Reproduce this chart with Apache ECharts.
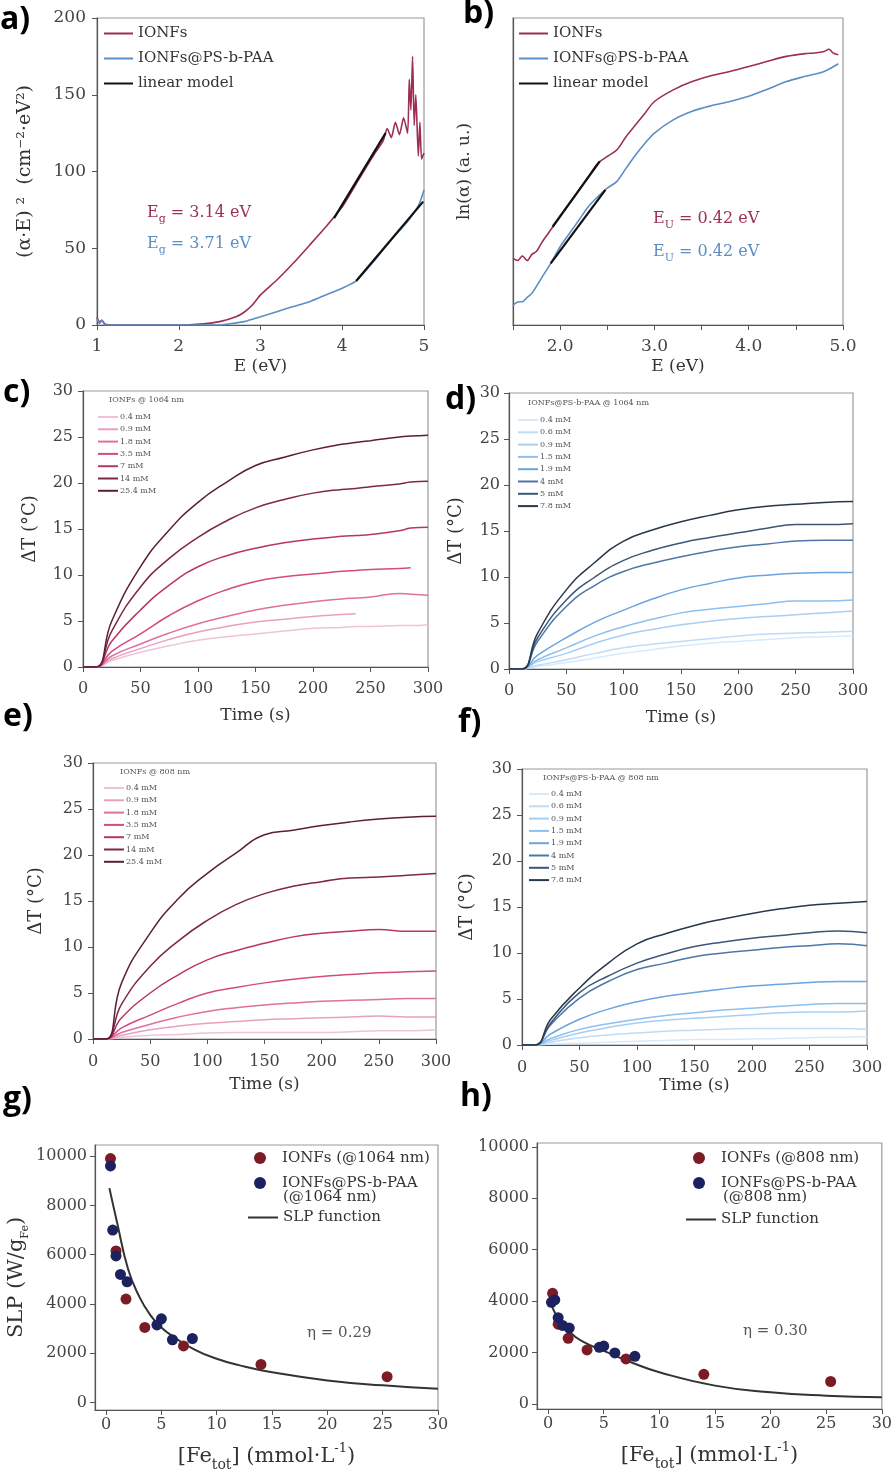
<!DOCTYPE html>
<html>
<head>
<meta charset="utf-8">
<title>IONFs optical and photothermal data</title>
<script src="https://cdn.jsdelivr.net/npm/echarts@6/dist/echarts.min.js"></script>
<style>
    body { margin: 0; background: #fff; }
    #figure { width: 895px; height: 1477px; }
</style>
</head>
<body>
<div id="figure"></div>
<script>
// ---- a) Tauc plot ----
var taucE_ionfs = [1.0, 1.03, 1.06, 1.1, 1.2, 1.5, 2.0, 2.3, 2.5, 2.7, 2.8, 2.9, 3.0, 3.2, 3.4, 3.6, 3.8, 4.0, 4.2, 4.4, 4.5, 4.55, 4.6, 4.65, 4.7, 4.75, 4.8, 4.82, 4.84, 4.86, 4.88, 4.9, 4.93, 4.95, 4.97, 5.0];
var taucY_ionfs = [5, 2, 3, 0.5, 0, 0, 0, 0.8, 2.2, 5.4, 8.3, 13, 19.6, 29.3, 40.2, 52, 64, 77, 94.6, 112, 120, 128, 122, 132, 124, 135, 125, 160, 140, 175, 130, 150, 110, 132, 108, 112];
var taucE_paa = [1.0, 1.03, 1.06, 1.1, 1.5, 2.0, 2.5, 2.6, 2.8, 3.0, 3.2, 3.4, 3.6, 3.8, 4.0, 4.17, 4.4, 4.6, 4.8, 4.9, 4.95, 5.0];
var taucY_paa = [4, 1, 3, 0, 0, 0, 0, 0.6, 2.2, 5.4, 8.7, 12, 15.2, 19.6, 24, 28.7, 42.4, 55.4, 67.4, 75, 80, 88];
var taucFitE_ionfs = [3.9, 4.53];
var taucFitY_ionfs = [69.6, 125];
var taucFitE_paa = [4.17, 4.99];
var taucFitY_paa = [28.7, 80.4];

// ---- b) Urbach plot ----
var urbE_ionfs = [1.5, 1.55, 1.6, 1.65, 1.7, 1.75, 1.8, 1.9, 2.0, 2.1, 2.2, 2.3, 2.4, 2.5, 2.6, 2.7, 2.8, 2.9, 3.0, 3.2, 3.4, 3.6, 3.8, 4.0, 4.2, 4.4, 4.6, 4.7, 4.8, 4.85, 4.9, 4.95];
var urbY_ionfs = [2.17, 2.1, 2.25, 2.1, 2.3, 2.4, 2.66, 3.1, 3.53, 3.97, 4.4, 4.84, 5.27, 5.49, 5.7, 6.14, 6.52, 6.9, 7.28, 7.66, 7.93, 8.12, 8.26, 8.42, 8.59, 8.75, 8.84, 8.86, 8.91, 8.98, 8.85, 8.8];
var urbE_paa = [1.5, 1.55, 1.6, 1.65, 1.7, 1.8, 1.9, 2.0, 2.1, 2.2, 2.3, 2.4, 2.5, 2.6, 2.7, 2.8, 2.9, 3.0, 3.2, 3.4, 3.6, 3.8, 4.0, 4.2, 4.4, 4.6, 4.8, 4.95];
var urbY_paa = [0.65, 0.75, 0.76, 0.9, 1.03, 1.52, 2.01, 2.55, 2.99, 3.42, 3.86, 4.18, 4.46, 4.67, 5.11, 5.54, 5.92, 6.25, 6.68, 6.96, 7.14, 7.28, 7.45, 7.68, 7.93, 8.1, 8.26, 8.51];
var urbFitE_ionfs = [1.92, 2.42];
var urbFitY_ionfs = [3.2, 5.33];
var urbFitE_paa = [1.9, 2.48];
var urbFitY_paa = [2.01, 4.4];

// ---- c) - f) heating curves ----
var ionfsConc = ['0.4 mM', '0.9 mM', '1.8 mM', '3.5 mM', '7 mM', '14 mM', '25.4 mM'];
var paaConc = ['0.4 mM', '0.6 mM', '0.9 mM', '1.5 mM', '1.9 mM', '4 mM', '5 mM', '7.8 mM'];
var pinks = ['#efc3d8', '#e8a0c0', '#e0709c', '#d44a82', '#b83566', '#7f2746', '#5c1f35'];
var blues = ['#d6eafb', '#bfdcf7', '#a6cff3', '#8cc0ee', '#6aa5e0', '#4d77a6', '#3b5678', '#27384c'];

var timeC = [0, 11, 25, 50, 75, 100, 125, 150, 175, 200, 225, 237, 250, 275, 285, 300];
var heatC = [
    [0, 0, 0.7, 1.6, 2.3, 2.9, 3.3, 3.6, 3.9, 4.2, 4.3, 4.4, 4.4, 4.5, 4.5, 4.6],
    [0, 0, 0.9, 2.0, 3.0, 3.8, 4.4, 4.9, 5.2, 5.5, 5.7, 5.8, null, null, null, null],
    [0, 0, 1.2, 2.5, 3.7, 4.7, 5.5, 6.2, 6.7, 7.1, 7.4, 7.5, 7.6, 8.0, 7.9, 7.8],
    [0, 0, 1.7, 3.6, 5.6, 7.2, 8.4, 9.3, 9.8, 10.1, 10.4, 10.5, 10.6, 10.7, 10.8, null],
    [0, 0, 2.8, 6.2, 8.9, 10.9, 12.1, 12.9, 13.5, 13.9, 14.2, 14.3, 14.4, 14.8, 15.1, 15.2],
    [0, 0, 3.9, 8.7, 11.8, 14.1, 15.9, 17.3, 18.2, 18.9, 19.3, 19.4, 19.6, 19.9, 20.1, 20.2],
    [0, 0, 5.0, 10.9, 14.9, 17.9, 20.1, 21.9, 22.8, 23.6, 24.2, 24.4, 24.6, 25.0, 25.1, 25.2]
];

var timeT = [0, 11, 25, 50, 75, 100, 125, 150, 175, 200, 225, 250, 275, 300];
var heatD = [
    [0, 0, 0.3, 0.7, 1.2, 1.7, 2.1, 2.5, 2.8, 3.0, 3.2, 3.4, 3.5, 3.6],
    [0, 0, 0.4, 1.0, 1.7, 2.3, 2.7, 3.0, 3.3, 3.6, 3.8, 3.9, 4.0, 4.1],
    [0, 0, 0.8, 1.7, 2.8, 3.7, 4.3, 4.8, 5.2, 5.5, 5.7, 5.9, 6.1, 6.3],
    [0, 0, 1.0, 2.3, 3.6, 4.6, 5.4, 6.1, 6.5, 6.8, 7.1, 7.4, 7.4, 7.5],
    [0, 0, 1.5, 3.4, 5.1, 6.4, 7.6, 8.6, 9.3, 9.9, 10.2, 10.4, 10.5, 10.5],
    [0, 0, 3.0, 6.8, 9.1, 10.6, 11.5, 12.2, 12.8, 13.3, 13.6, 13.9, 14.0, 14.0],
    [0, 0, 3.4, 7.5, 10.0, 11.8, 12.9, 13.7, 14.3, 14.8, 15.3, 15.7, 15.7, 15.8],
    [0, 0, 3.9, 8.6, 11.6, 13.9, 15.1, 16.0, 16.7, 17.3, 17.7, 17.9, 18.1, 18.2]
];
var heatE = [
    [0, 0, 0.2, 0.4, 0.5, 0.65, 0.7, 0.7, 0.7, 0.7, 0.8, 0.9, 0.9, 1.0],
    [0, 0, 0.4, 1.0, 1.4, 1.7, 1.9, 2.1, 2.2, 2.3, 2.4, 2.5, 2.4, 2.4],
    [0, 0, 0.7, 1.6, 2.4, 3.0, 3.4, 3.7, 3.9, 4.1, 4.2, 4.3, 4.4, 4.4],
    [0, 0, 1.2, 2.6, 3.9, 5.0, 5.6, 6.1, 6.5, 6.8, 7.0, 7.2, 7.3, 7.4],
    [0, 0, 2.3, 5.0, 7.0, 8.6, 9.6, 10.4, 11.1, 11.5, 11.7, 11.9, 11.7, 11.7],
    [0, 0, 3.8, 7.9, 10.7, 12.9, 14.6, 15.8, 16.6, 17.1, 17.5, 17.6, 17.8, 18.0],
    [0, 0, 6.1, 11.5, 15.3, 18.0, 20.2, 22.2, 22.7, 23.2, 23.6, 23.9, 24.1, 24.2]
];
var heatF = [
    [0, 0, 0.1, 0.2, 0.3, 0.4, 0.5, 0.6, 0.6, 0.65, 0.7, 0.8, 0.85, 0.9],
    [0, 0, 0.3, 0.8, 1.1, 1.3, 1.5, 1.6, 1.7, 1.8, 1.8, 1.8, 1.8, 1.7],
    [0, 0, 0.5, 1.3, 1.9, 2.4, 2.7, 2.9, 3.1, 3.3, 3.5, 3.6, 3.6, 3.7],
    [0, 0, 0.7, 1.7, 2.3, 2.8, 3.2, 3.5, 3.8, 4.0, 4.2, 4.4, 4.5, 4.5],
    [0, 0, 1.2, 2.8, 3.9, 4.7, 5.3, 5.7, 6.1, 6.4, 6.6, 6.8, 6.9, 6.9],
    [0, 0, 2.2, 5.1, 6.9, 8.2, 8.9, 9.6, 10.0, 10.3, 10.6, 10.8, 11.0, 10.8],
    [0, 0, 2.4, 5.7, 7.5, 8.9, 9.9, 10.7, 11.2, 11.6, 11.9, 12.2, 12.4, 12.2],
    [0, 0, 2.8, 6.2, 8.9, 11.0, 12.1, 13.0, 13.7, 14.3, 14.8, 15.2, 15.4, 15.6]
];

// ---- g) h) SLP vs iron concentration ----
var slpG_ionfsX = [0.4, 0.9, 1.8, 3.5, 7, 14, 25.4];
var slpG_ionfsY = [9900, 6150, 4200, 3050, 2300, 1550, 1050];
var slpG_paaX = [0.4, 0.6, 0.9, 1.3, 1.9, 4.6, 5, 6, 7.8];
var slpG_paaY = [9600, 7000, 5950, 5200, 4900, 3150, 3400, 2550, 2600];
var slpG_fitX = [0.3, 1, 2, 3, 4, 5, 6, 8, 10, 12, 15, 20, 25, 30];
var slpG_fitY = [8700, 7300, 5400, 4300, 3550, 3050, 2700, 2150, 1780, 1520, 1230, 900, 700, 560];

var slpH_ionfsX = [0.4, 0.9, 1.8, 3.5, 7, 14, 25.4];
var slpH_ionfsY = [4300, 3100, 2550, 2100, 1750, 1150, 870];
var slpH_paaX = [0.3, 0.6, 0.9, 1.3, 1.9, 4.6, 5, 6, 7.8];
var slpH_paaY = [3950, 4050, 3350, 3050, 2950, 2200, 2250, 1980, 1850];
var slpH_fitX = [0.3, 1, 2, 3, 5, 7.5, 10, 15, 20, 25, 30];
var slpH_fitY = [3830, 3260, 2770, 2450, 2060, 1610, 1230, 710, 450, 320, 260];

var serif = 'DejaVu Serif';
var sans = '"Open Sans", "Liberation Sans", sans-serif';
var red = '#9c2f53';
var blue = '#5b8ec4';
var dotRed = '#7a1b25';
var dotBlue = '#1c2260';

function pairs(xs, ys) {
    var out = [];
    for (var i = 0; i < xs.length; i++) {
        if (ys[i] !== null) out.push([xs[i], ys[i]]);
    }
    return out;
}

// value axis with the common look; size = label font size, gap = label distance from the axis line
function axis(gridIndex, extra, size, gap) {
    var a = {
        type: 'value',
        gridIndex: gridIndex,
        splitLine: {show: false},
        axisLine: {show: true, onZero: false, lineStyle: {color: '#555', width: 1.2}},
        axisTick: {show: true, length: 5, lineStyle: {color: '#555'}},
        axisLabel: {color: '#444', fontFamily: serif, fontSize: size, margin: gap,
            formatter: function (v) { return String(v); }},
        nameLocation: 'middle',
        nameTextStyle: {color: '#333', fontFamily: serif, fontSize: 17}
    };
    for (var k in extra) a[k] = extra[k];
    return a;
}

function gridBox(left, top, width, height) {
    return {left: left, top: top, width: width, height: height, show: true, borderColor: '#9a9a9a', borderWidth: 1.2, containLabel: false};
}

function label(text, left, top) {
    return {type: 'text', left: left, top: top, style: {text: text, font: 'bold 32px ' + sans, fill: '#000'}};
}

function note(text, left, top, size, color) {
    return {type: 'text', left: left, top: top, style: {text: text, font: size + 'px "DejaVu Serif"', fill: color}};
}

function subNote(main, sub, rest, left, top, color) {
    return {
        type: 'text', left: left, top: top,
        style: {
            text: '{m|' + main + '}{s|' + sub + '}{m|' + rest + '}',
            rich: {
                m: {fontFamily: serif, fontSize: 16, fill: color, lineHeight: 24},
                s: {fontFamily: serif, fontSize: 11, fill: color, lineHeight: 11, verticalAlign: 'bottom'}
            }
        }
    };
}

var grids = [
    gridBox(97, 18, 327, 307),
    gridBox(513, 18, 330, 307),
    gridBox(83, 391, 345, 276),
    gridBox(509, 393, 344, 276),
    gridBox(93, 763, 343, 276),
    gridBox(522, 769, 345, 276),
    gridBox(95, 1145, 343, 265),
    gridBox(537, 1143, 345, 266)
];

var feName = '{b|[Fe}{sub|tot}{b|] (mmol·L}{sup|-1}{b|)}';
var feRich = {
    b: {fontFamily: serif, fontSize: 21, color: '#333', lineHeight: 30},
    sub: {fontFamily: serif, fontSize: 14, color: '#333', lineHeight: 14, verticalAlign: 'bottom'},
    sup: {fontFamily: serif, fontSize: 13, color: '#333', lineHeight: 13, verticalAlign: 'top'}
};
var slpTicksX = [0, 5, 10, 15, 20, 25, 30];
var slpTicksY = [0, 2000, 4000, 6000, 8000, 10000];

var xAxes = [
    axis(0, {min: 1, max: 5, interval: 1, name: 'E (eV)', nameGap: 33}, 17, 13),
    axis(1, {min: 1.5, max: 5, interval: 0.5, name: 'E (eV)', nameGap: 33}, 17, 13),
    axis(2, {min: 0, max: 300, interval: 50, name: 'Time (s)', nameGap: 40}, 16, 14),
    axis(3, {min: 0, max: 300, interval: 50, name: 'Time (s)', nameGap: 40}, 16, 14),
    axis(4, {min: 0, max: 300, interval: 50, name: 'Time (s)', nameGap: 37}, 16, 15),
    axis(5, {min: 0, max: 300, interval: 50, name: 'Time (s)', nameGap: 31}, 16, 15),
    axis(6, {min: -1, max: 30, name: feName, nameGap: 32}, 16, 7),
    axis(7, {min: -1, max: 30, name: feName, nameGap: 32}, 16, 7)
];
xAxes[1].axisLabel.formatter = function (v) { return v % 1 === 0 ? v.toFixed(1) : ''; };
[6, 7].forEach(function (i) {
    xAxes[i].axisLabel.customValues = slpTicksX;
    xAxes[i].axisTick.customValues = slpTicksX;
    xAxes[i].nameTextStyle.rich = feRich;
});

var yAxes = [
    axis(0, {min: 0, max: 200, interval: 50, name: '(α·E) ²  (cm⁻²·eV²)', nameGap: 62}, 17, 11),
    axis(1, {min: 0, max: 10, name: 'ln(α) (a. u.)', nameGap: 40}, 15, 8),
    axis(2, {min: 0, max: 30, interval: 5, name: 'ΔT (°C)', nameGap: 44}, 16, 10),
    axis(3, {min: 0, max: 30, interval: 5, name: 'ΔT (°C)', nameGap: 44}, 16, 9),
    axis(4, {min: 0, max: 30, interval: 5, name: 'ΔT (°C)', nameGap: 48}, 16, 10),
    axis(5, {min: 0, max: 30, interval: 5, name: 'ΔT (°C)', nameGap: 46}, 16, 10),
    axis(6, {min: -300, max: 10450, name: '{b|SLP (W/g}{sub|Fe}{b|)}', nameGap: 64}, 16, 8),
    axis(7, {min: -200, max: 10150}, 16, 8)
];
yAxes[0].nameTextStyle.fontSize = 19;
[2, 3, 4, 5].forEach(function (i) { yAxes[i].nameTextStyle.fontSize = 18; });
yAxes[1].axisLabel.show = false;
yAxes[1].axisTick.show = false;
[6, 7].forEach(function (i) {
    yAxes[i].axisLabel.customValues = slpTicksY;
    yAxes[i].axisTick.customValues = slpTicksY;
});
yAxes[6].nameTextStyle.rich = {
    b: {fontFamily: serif, fontSize: 21, color: '#333', lineHeight: 28},
    sub: {fontFamily: serif, fontSize: 11, color: '#333', lineHeight: 11, verticalAlign: 'bottom'}
};

var series = [];
function line(name, gi, data, color, width, z, smooth) {
    series.push({
        name: name, type: 'line', xAxisIndex: gi, yAxisIndex: gi, data: data,
        symbol: 'none', smooth: smooth || 0, z: z || 2,
        lineStyle: {color: color, width: width}, itemStyle: {color: color}
    });
}
function dots(name, gi, data, color) {
    series.push({
        name: name, type: 'scatter', xAxisIndex: gi, yAxisIndex: gi, data: data,
        symbolSize: 11, itemStyle: {color: color, opacity: 1}, z: 3
    });
}

// a, b
line('IONFs', 0, pairs(taucE_ionfs, taucY_ionfs), red, 1.6, 2, 0.2);
line('IONFs@PS-b-PAA', 0, pairs(taucE_paa, taucY_paa), blue, 1.6, 2, 0.2);
line('linear model', 0, pairs(taucFitE_ionfs, taucFitY_ionfs), '#111', 2.2, 4);
line('linear model', 0, pairs(taucFitE_paa, taucFitY_paa), '#111', 2.2, 4);
line('IONFs', 1, pairs(urbE_ionfs, urbY_ionfs), red, 1.6, 2, 0.3);
line('IONFs@PS-b-PAA', 1, pairs(urbE_paa, urbY_paa), blue, 1.6, 2, 0.3);
line('linear model', 1, pairs(urbFitE_ionfs, urbFitY_ionfs), '#111', 2.2, 4);
line('linear model', 1, pairs(urbFitE_paa, urbFitY_paa), '#111', 2.2, 4);

// c - f
function heating(tag, gi, names, colors, time, curves) {
    var legendNames = [];
    for (var i = 0; i < names.length; i++) {
        var nm = tag + '|' + names[i];
        legendNames.push(nm);
        line(nm, gi, pairs(time, curves[i]), colors[i], 1.5, 2, 0.5);
    }
    return legendNames;
}
var legC = heating('c', 2, ionfsConc, pinks, timeC, heatC);
var legD = heating('d', 3, paaConc, blues, timeT, heatD);
var legE = heating('e', 4, ionfsConc, pinks, timeT, heatE);
var legF = heating('f', 5, paaConc, blues, timeT, heatF);

// g, h
line('SLP function', 6, pairs(slpG_fitX, slpG_fitY), '#333', 2, 2, 0.5);
dots('IONFs (@1064 nm)', 6, pairs(slpG_ionfsX, slpG_ionfsY), dotRed);
dots('IONFs@PS-b-PAA ', 6, pairs(slpG_paaX, slpG_paaY), dotBlue);
line('SLP function', 7, pairs(slpH_fitX, slpH_fitY), '#333', 2, 2, 0.5);
dots('IONFs (@808 nm)', 7, pairs(slpH_ionfsX, slpH_ionfsY), dotRed);
dots('IONFs@PS-b-PAA  ', 7, pairs(slpH_paaX, slpH_paaY), dotBlue);

function smallLegend(names, left, top) {
    return {
        data: names, orient: 'vertical', left: left, top: top, selectedMode: false,
        itemWidth: 20, itemHeight: 8, itemGap: 4.3, padding: 0,
        itemStyle: {opacity: 0},
        formatter: function (n) { return n.split('|')[1]; },
        textStyle: {fontFamily: serif, fontSize: 8, color: '#555', padding: [0, 0, 0, -3]}
    };
}
function lineLegend(names, left, top, size, iw, ih, gap) {
    return {
        data: names, orient: 'vertical', left: left, top: top, selectedMode: false,
        itemWidth: iw, itemHeight: ih, itemGap: gap, padding: 0,
        itemStyle: {opacity: 0},
        textStyle: {fontFamily: serif, fontSize: size, color: '#333'}
    };
}
function dotLegend(names, left, top) {
    return {
        data: names, orient: 'vertical', left: left, top: top, selectedMode: false,
        itemWidth: 34, itemHeight: 12, itemGap: 9, padding: 0,
        textStyle: {fontFamily: serif, fontSize: 15, color: '#333', lineHeight: 16}
    };
}

var legends = [
    lineLegend(['IONFs', 'IONFs@PS-b-PAA', 'linear model'], 103, 26, 15, 29, 14, 10),
    lineLegend(['IONFs', 'IONFs@PS-b-PAA', 'linear model'], 518, 26, 15, 29, 14, 10),
    smallLegend(legC, 97, 413),
    smallLegend(legD, 517, 416),
    smallLegend(legE, 103, 784),
    smallLegend(legF, 528, 790),
    dotLegend(['IONFs (@1064 nm)', 'IONFs@PS-b-PAA '], 254, 1150),
    lineLegend(['SLP function'], 247, 1210, 15, 30, 16, 0),
    dotLegend(['IONFs (@808 nm)', 'IONFs@PS-b-PAA  '], 693, 1150),
    lineLegend(['SLP function'], 685, 1212, 15, 30, 16, 0)
];

var graphics = [
    label('a)', 0, 4), label('b)', 463, -2), label('c)', 3, 377), label('d)', 445, 384),
    label('e)', 3, 701), label('f)', 458, 707), label('g)', 3, 1084), label('h)', 460, 1081),
    subNote('E', 'g', ' = 3.14 eV', 147, 205, red),
    subNote('E', 'g', ' = 3.71 eV', 147, 236, blue),
    subNote('E', 'U', ' = 0.42 eV', 653, 211, red),
    subNote('E', 'U', ' = 0.42 eV', 653, 244, blue),
    note('IONFs @ 1064 nm', 109, 396, 8, '#555'),
    note('IONFs@PS-b-PAA @ 1064 nm', 528, 399, 8, '#555'),
    note('IONFs @ 808 nm', 120, 768, 8, '#555'),
    note('IONFs@PS-b-PAA @ 808 nm', 543, 774, 8, '#555'),
    note('(@1064 nm)', 283, 1190, 15, '#333'),
    note('(@808 nm)', 723, 1190, 15, '#333'),
    note('η = 0.29', 307, 1326, 15, '#555'),
    note('η = 0.30', 743, 1324, 15, '#555')
];

var chart = echarts.init(document.getElementById('figure'));
chart.setOption({
    animation: false,
    backgroundColor: '#fff',
    grid: grids,
    xAxis: xAxes,
    yAxis: yAxes,
    legend: legends,
    series: series,
    graphic: graphics
});
</script>
</body>
</html>
